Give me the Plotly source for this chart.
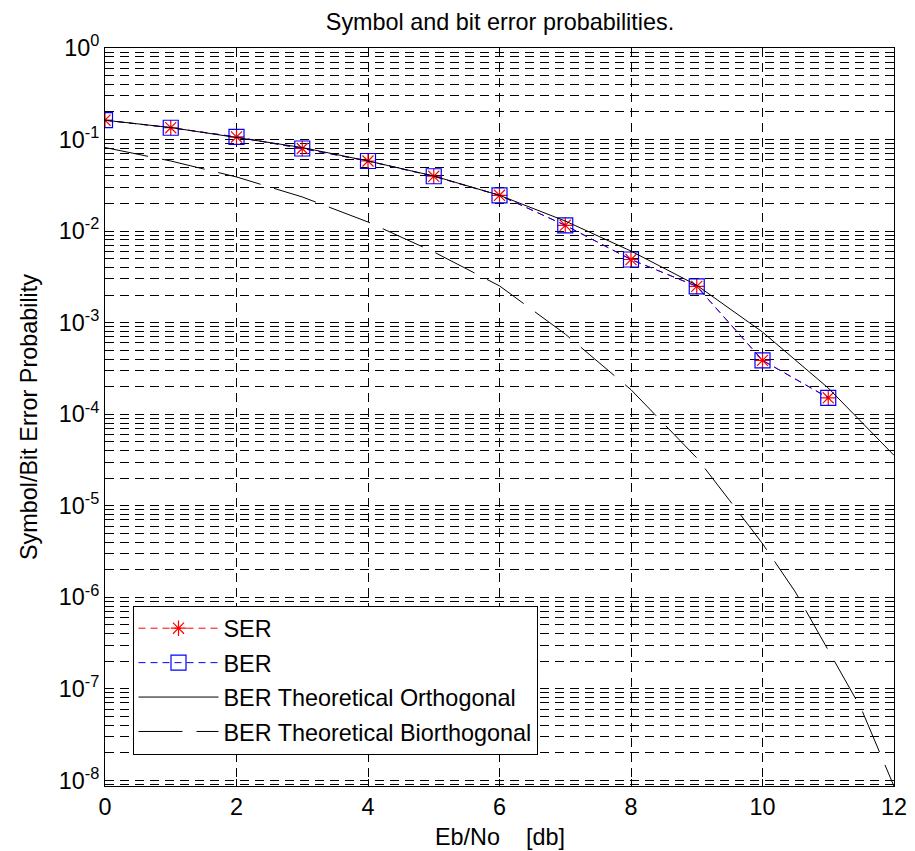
import plotly.graph_objects as go

# ---- data ----
ebno_sim = [0, 1, 2, 3, 4, 5, 6, 7, 8, 9, 10, 11]
ser = [0.1626, 0.1346, 0.1067, 0.0798, 0.0583, 0.0397, 0.0246, 0.01156, 0.00489, 0.00249, 0.000387, 0.000151]
ber = [0.1626, 0.1346, 0.1067, 0.0798, 0.0583, 0.0397, 0.0246, 0.01156, 0.00489, 0.00249, 0.000387, 0.000151]

ebno_th = [0, 1, 2, 3, 4, 5, 6, 7, 8, 9, 10, 11, 12]
ber_orth = [0.1626, 0.1352, 0.1052, 0.0818, 0.0583, 0.0400, 0.0246, 0.01288, 0.00605, 0.00256,
            0.000789, 0.000193, 0.0000355]

ebno_bio = [0, 1, 2, 3, 4, 5, 6, 7, 8, 9, 9.5, 10, 10.5, 11, 11.5, 12]
ber_bio = [0.0818, 0.0583, 0.0390, 0.0236, 0.01257, 0.00592, 0.00252, 0.000750, 0.000185, 0.0000333,
           0.0000114, 0.00000385, 0.00000114, 0.000000267, 0.000000061, 0.0000000086]

ytick_vals = [1e0, 1e-1, 1e-2, 1e-3, 1e-4, 1e-5, 1e-6, 1e-7, 1e-8]
ytick_text = ["10<sup>0</sup>", "10<sup>-1</sup>", "10<sup>-2</sup>", "10<sup>-3</sup>", "10<sup>-4</sup>",
              "10<sup>-5</sup>", "10<sup>-6</sup>", "10<sup>-7</sup>", "10<sup>-8</sup>"]
xtick_vals = [0, 2, 4, 6, 8, 10, 12]

FONT = "Liberation Sans, Arial, sans-serif"
FS = 23.4
GRID_DASH = "9px,6px"

fig = go.Figure()
fig.add_trace(go.Scatter(
    x=ebno_sim, y=ser, name="SER", mode="lines+markers", legendgroup="a",
    line=dict(color="red", width=1, dash="7px,5px"),
    marker=dict(symbol="asterisk-open", size=13, color="red", line=dict(color="red", width=1.2)),
))
fig.add_trace(go.Scatter(
    x=ebno_sim, y=ber, name="BER", mode="lines+markers", legendgroup="b",
    line=dict(color="blue", width=1, dash="7px,5px"),
    marker=dict(symbol="square-open", size=15, color="blue", line=dict(color="blue", width=1.2)),
))
fig.add_trace(go.Scatter(
    x=ebno_th, y=ber_orth, name="BER Theoretical Orthogonal", mode="lines", legendgroup="c",
    line=dict(color="black", width=1),
))
fig.add_trace(go.Scatter(
    x=ebno_bio, y=ber_bio, name="BER Theoretical Biorthogonal", mode="lines", legendgroup="d",
    line=dict(color="black", width=1, dash="44px,14px"),
))

fig.update_layout(
    width=915, height=851,
    margin=dict(l=105, r=21, t=48, b=65, autoexpand=False),
    paper_bgcolor="white", plot_bgcolor="white",
    font=dict(family=FONT, size=FS, color="black"),
    title=dict(text="Symbol and bit error probabilities.", x=500 / 915, xanchor="center",
               y=1 - 22 / 851, yanchor="middle", font=dict(size=FS)),
    showlegend=True,
    legend=dict(
        x=(132.5 - 105) / 789, y=(786 - 605.5) / 738, xanchor="left", yanchor="top",
        bgcolor="white", bordercolor="black", borderwidth=1,
        font=dict(size=FS), itemwidth=80, tracegroupgap=1,
    ),
    annotations=[dict(
        text="Eb/No\u00a0\u00a0\u00a0\u00a0[db]", xref="paper", yref="paper",
        x=(500 - 105) / 789, y=(786 - 837) / 738, xanchor="center", yanchor="middle",
        showarrow=False, font=dict(size=FS),
    )],
)

fig.update_xaxes(
    range=[0, 12], tickvals=xtick_vals, ticks="inside", ticklen=7, tickcolor="black",
    showline=True, linecolor="black", linewidth=1, mirror="allticks",
    showgrid=True, gridcolor="black", gridwidth=1, griddash=GRID_DASH,
    zeroline=False, tickfont=dict(size=FS),
)
fig.update_yaxes(
    type="log", range=[-8.062, 0], tickvals=ytick_vals, ticktext=ytick_text,
    ticks="inside", ticklen=7, tickcolor="black",
    showline=True, linecolor="black", linewidth=1, mirror="allticks",
    showgrid=True, gridcolor="black", gridwidth=1, griddash=GRID_DASH,
    zeroline=False, tickfont=dict(size=FS),
    minor=dict(dtick="D1", ticks="inside", ticklen=4, tickcolor="black",
               showgrid=True, gridcolor="black", gridwidth=1, griddash=GRID_DASH),
    title=dict(text="Symbol/Bit Error Probability", font=dict(size=FS), standoff=14),
)

fig.write_html("out.html", config={"displayModeBar": False},
               post_script="document.body.style.margin='0px';")
